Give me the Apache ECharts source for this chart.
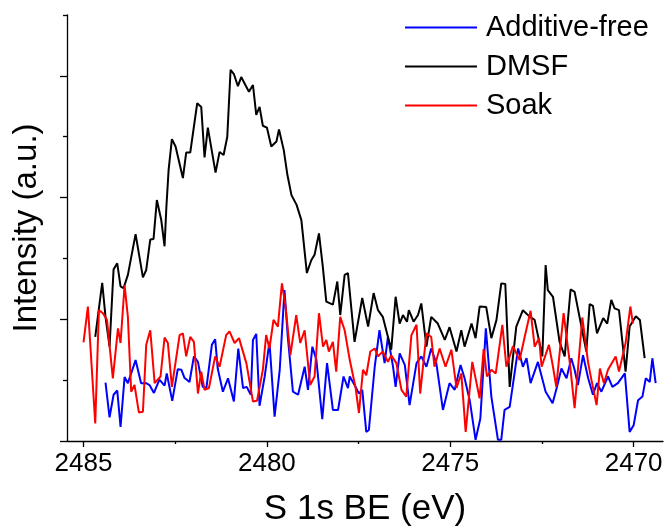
<!DOCTYPE html>
<html>
<head>
<meta charset="utf-8">
<script src="https://cdn.jsdelivr.net/npm/echarts@6/dist/echarts.min.js"></script>
<style>html,body{margin:0;padding:0;background:#fff;}#chart{width:668px;height:529px;}</style>
</head>
<body>
<div id="chart"></div>
<script>
// Legend / series names
const seriesNames = ['Additive-free', 'DMSF', 'Soak'];
// X tick labels (binding energy, eV)
const xMajorTicks = [2485, 2480, 2475, 2470];
const xMinorTicks = [2482.5, 2477.5, 2472.5];
const yMajorTicks = [0, 2, 4, 6];
const yMinorTicks = [1, 3, 5, 7];

// [BE (eV), intensity (a.u.)]
const dmsf = [
[2484.68,1.71],[2484.56,2.27],[2484.49,2.60],[2484.40,2.04],[2484.29,1.55],[2484.18,2.82],[2484.08,2.92],[2483.99,2.54],[2483.91,2.51],[2483.79,2.73],
[2483.58,3.40],[2483.38,2.69],[2483.29,2.81],[2483.18,3.31],[2483.09,3.32],[2483.00,3.96],[2482.88,3.63],[2482.79,3.20],[2482.74,3.85],[2482.68,4.45],
[2482.59,4.96],[2482.49,4.84],[2482.29,4.32],[2482.20,4.74],[2482.09,4.74],[2481.90,5.55],[2481.79,5.49],[2481.70,4.66],[2481.61,5.15],[2481.40,4.41],
[2481.29,4.75],[2481.18,4.70],[2481.08,5.00],[2480.99,6.10],[2480.90,6.03],[2480.79,5.83],[2480.70,5.98],[2480.49,5.74],[2480.38,5.85],[2480.29,5.36],
[2480.20,5.49],[2480.11,5.18],[2480.00,5.15],[2479.88,4.84],[2479.74,4.92],[2479.67,5.12],[2479.54,4.78],[2479.44,4.37],[2479.33,4.04],[2479.19,3.88],
[2479.06,3.63],[2478.91,2.76],[2478.79,2.97],[2478.70,3.06],[2478.58,3.41],[2478.48,2.89],[2478.38,2.29],[2478.20,2.24],[2478.08,2.62],[2478.00,2.07],
[2477.88,2.73],[2477.79,2.76],[2477.61,1.63],[2477.40,2.35],[2477.24,1.88],[2477.09,2.43],[2476.97,2.15],[2476.84,2.04],[2476.61,1.50],[2476.49,2.37],
[2476.38,1.93],[2476.29,2.07],[2476.18,1.96],[2476.13,2.15],[2476.00,1.96],[2475.88,2.07],[2475.79,2.26],[2475.65,1.55],[2475.52,2.04],[2475.34,1.93],
[2475.15,1.66],[2475.02,1.87],[2474.83,1.47],[2474.70,1.82],[2474.61,1.55],[2474.42,1.93],[2474.31,1.69],[2474.20,2.21],[2474.02,2.20],[2473.88,1.69],
[2473.74,1.99],[2473.61,2.59],[2473.50,2.58],[2473.38,0.89],[2473.20,1.88],[2473.02,2.15],[2472.83,2.04],[2472.70,1.99],[2472.49,1.39],[2472.40,2.89],
[2472.34,2.48],[2472.20,2.37],[2472.02,1.63],[2471.88,1.39],[2471.72,2.49],[2471.61,2.45],[2471.29,1.47],[2471.20,2.25],[2471.11,2.22],[2471.00,1.77],
[2470.83,2.02],[2470.72,1.93],[2470.61,2.32],[2470.52,2.18],[2470.40,2.15],[2470.22,1.14],[2470.11,1.88],[2469.94,2.05],[2469.83,1.99],[2469.70,1.36]
];

const soak = [
[2485.00,1.62],[2484.88,2.21],[2484.68,0.29],[2484.58,2.15],[2484.47,2.10],[2484.36,1.99],[2484.20,1.03],[2484.06,1.85],[2483.99,1.61],[2483.88,2.56],
[2483.79,2.04],[2483.70,0.81],[2483.61,0.92],[2483.49,0.47],[2483.38,0.48],[2483.29,1.58],[2483.18,1.82],[2483.06,0.95],[2482.90,1.06],[2482.79,1.70],
[2482.70,1.61],[2482.59,0.89],[2482.38,1.74],[2482.29,1.77],[2482.20,1.39],[2482.09,1.71],[2481.99,1.63],[2481.88,0.78],[2481.79,1.14],[2481.70,0.84],
[2481.58,0.87],[2481.41,1.39],[2481.29,1.22],[2481.11,1.74],[2481.02,1.80],[2480.88,1.61],[2480.76,1.69],[2480.56,1.28],[2480.38,0.65],[2480.27,0.66],
[2480.11,1.17],[2480.02,1.74],[2479.93,1.52],[2479.82,1.99],[2479.70,1.88],[2479.59,2.59],[2479.49,2.21],[2479.36,1.41],[2479.20,2.07],[2479.09,1.61],
[2478.97,1.82],[2478.82,0.92],[2478.70,1.06],[2478.58,2.10],[2478.47,1.55],[2478.38,1.66],[2478.31,1.47],[2478.20,1.63],[2478.11,1.14],[2478.00,2.04],
[2477.88,1.82],[2477.74,1.33],[2477.58,0.87],[2477.49,0.46],[2477.38,1.17],[2477.29,1.08],[2477.18,1.47],[2477.06,1.52],[2476.97,1.39],[2476.84,1.47],
[2476.70,1.30],[2476.61,1.41],[2476.47,1.28],[2476.33,0.84],[2476.20,0.73],[2476.06,1.74],[2475.92,1.91],[2475.82,0.78],[2475.65,1.77],[2475.52,1.71],
[2475.43,1.22],[2475.29,1.52],[2475.13,1.22],[2474.97,1.50],[2474.83,0.87],[2474.70,1.11],[2474.58,0.15],[2474.40,1.30],[2474.20,0.70],[2474.09,1.51],
[2474.00,1.06],[2473.88,1.17],[2473.76,1.11],[2473.58,1.91],[2473.47,1.22],[2473.29,1.56],[2473.11,1.33],[2472.99,1.66],[2472.81,2.14],[2472.70,1.55],
[2472.58,1.69],[2472.51,1.22],[2472.31,1.58],[2472.20,1.22],[2472.11,0.89],[2471.91,2.10],[2471.74,1.28],[2471.61,0.54],[2471.40,2.03],[2471.24,1.28],
[2471.15,1.00],[2471.01,0.59],[2470.92,1.19],[2470.81,0.95],[2470.70,1.17],[2470.49,1.39],[2470.40,1.14],[2470.22,1.61],[2470.09,2.21],[2470.02,1.93]
];

const additiveFree = [
[2484.40,0.96],[2484.29,0.39],[2484.18,0.76],[2484.08,0.83],[2483.99,0.23],[2483.88,1.05],[2483.79,0.95],[2483.58,1.33],[2483.43,0.95],[2483.29,0.95],
[2483.20,0.92],[2483.08,0.79],[2482.93,1.01],[2482.79,0.91],[2482.73,1.11],[2482.58,0.66],[2482.43,1.18],[2482.33,1.17],[2482.25,1.04],[2482.11,0.97],
[2481.99,1.39],[2481.88,1.30],[2481.75,0.89],[2481.65,0.87],[2481.50,1.58],[2481.41,1.67],[2481.34,1.19],[2481.20,0.81],[2481.06,1.03],[2480.90,0.65],
[2480.78,1.52],[2480.65,0.87],[2480.55,0.89],[2480.44,0.76],[2480.38,1.66],[2480.29,1.76],[2480.20,0.58],[2480.06,1.06],[2479.93,1.63],[2479.79,0.40],
[2479.65,1.17],[2479.52,2.48],[2479.43,1.71],[2479.29,0.81],[2479.15,0.76],[2478.97,1.22],[2478.88,0.84],[2478.76,1.55],[2478.65,1.33],[2478.49,0.36],
[2478.36,1.28],[2478.20,0.51],[2478.06,0.51],[2477.91,1.06],[2477.79,0.87],[2477.74,1.06],[2477.61,0.92],[2477.49,0.78],[2477.40,0.84],[2477.29,0.15],
[2477.22,0.18],[2477.06,1.22],[2476.93,1.82],[2476.79,1.28],[2476.70,1.71],[2476.56,1.22],[2476.49,0.89],[2476.38,1.44],[2476.24,1.25],[2476.11,0.59],
[2475.92,1.28],[2475.79,1.39],[2475.65,1.22],[2475.52,1.52],[2475.38,1.28],[2475.20,0.51],[2475.02,0.95],[2474.88,0.84],[2474.72,1.25],[2474.61,1.03],
[2474.47,0.67],[2474.31,0.02],[2474.18,0.37],[2474.03,1.85],[2473.88,0.73],[2473.70,0.02],[2473.61,0.02],[2473.52,0.51],[2473.38,0.56],[2473.15,1.52],
[2473.02,1.22],[2472.92,1.36],[2472.81,0.95],[2472.61,1.30],[2472.40,0.81],[2472.21,0.62],[2472.09,0.89],[2471.97,1.19],[2471.83,1.03],[2471.70,1.36],
[2471.61,1.17],[2471.52,0.92],[2471.38,1.41],[2471.24,1.03],[2471.11,0.76],[2471.00,0.95],[2470.88,0.81],[2470.70,1.06],[2470.58,0.89],[2470.43,0.95],
[2470.24,1.11],[2470.11,0.15],[2470.00,0.26],[2469.88,0.67],[2469.76,0.73],[2469.67,1.03],[2469.56,0.97],[2469.49,1.36],[2469.40,0.95]
];

const FONT = '"Liberation Sans", Arial, sans-serif';
const chart = echarts.init(document.getElementById('chart'), null, {renderer: 'canvas'});
const xBase = {
  type: 'value', min: 2469.2, max: 2485.45, inverse: true, position: 'bottom',
  splitLine: {show: false}
};
const yBase = {type: 'value', min: 0, max: 7, position: 'left', splitLine: {show: false}};
const mk = (name, data, color) => ({
  name, type: 'line', data, symbol: 'none', showSymbol: false,
  lineStyle: {color, width: 2}, itemStyle: {color}, animation: false, z: 3
});
chart.setOption({
  animation: false,
  backgroundColor: '#ffffff',
  grid: {left: 67, right: 5, top: 15, bottom: 88, containLabel: false, outerBoundsMode: 'none'},
  legend: {
    orient: 'vertical', left: 405, top: 13, padding: 0,
    icon: 'rect', itemWidth: 72, itemHeight: 2, itemGap: 10,
    data: seriesNames,
    textStyle: {fontFamily: FONT, fontSize: 29, color: '#000', lineHeight: 29, padding: [0, 0, 0, 4]}
  },
  xAxis: [
    Object.assign({}, xBase, {
      name: 'S 1s BE (eV)', nameLocation: 'middle', nameGap: 51,
      nameTextStyle: {fontFamily: FONT, fontSize: 35, color: '#000'},
      axisLine: {show: true, onZero: false, lineStyle: {color: '#000', width: 1.3}},
      axisTick: {show: true, inside: false, length: 6, lineStyle: {color: '#000', width: 1.3}, customValues: xMajorTicks},
      axisLabel: {show: true, margin: 10, fontFamily: FONT, fontSize: 26, color: '#000', customValues: xMajorTicks,
        formatter: (v) => String(v)}
    }),
    Object.assign({}, xBase, {
      axisLine: {show: false},
      axisTick: {show: true, inside: false, length: 3, lineStyle: {color: '#000', width: 1.3}, customValues: xMinorTicks},
      axisLabel: {show: false}
    })
  ],
  yAxis: [
    Object.assign({}, yBase, {
      name: 'Intensity (a.u.)', nameLocation: 'middle', nameGap: 24,
      nameTextStyle: {fontFamily: FONT, fontSize: 33, color: '#000'},
      axisLine: {show: true, onZero: false, lineStyle: {color: '#000', width: 1.3}},
      axisTick: {show: true, inside: false, length: 7, lineStyle: {color: '#000', width: 1.3}, customValues: yMajorTicks},
      axisLabel: {show: false}
    }),
    Object.assign({}, yBase, {
      axisLine: {show: false},
      axisTick: {show: true, inside: false, length: 4, lineStyle: {color: '#000', width: 1.3}, customValues: yMinorTicks},
      axisLabel: {show: false}
    })
  ],
  series: [
    mk(seriesNames[0], additiveFree, '#0000ff'),
    mk(seriesNames[1], dmsf, '#000000'),
    mk(seriesNames[2], soak, '#ff0000')
  ]
});
</script>
</body>
</html>
